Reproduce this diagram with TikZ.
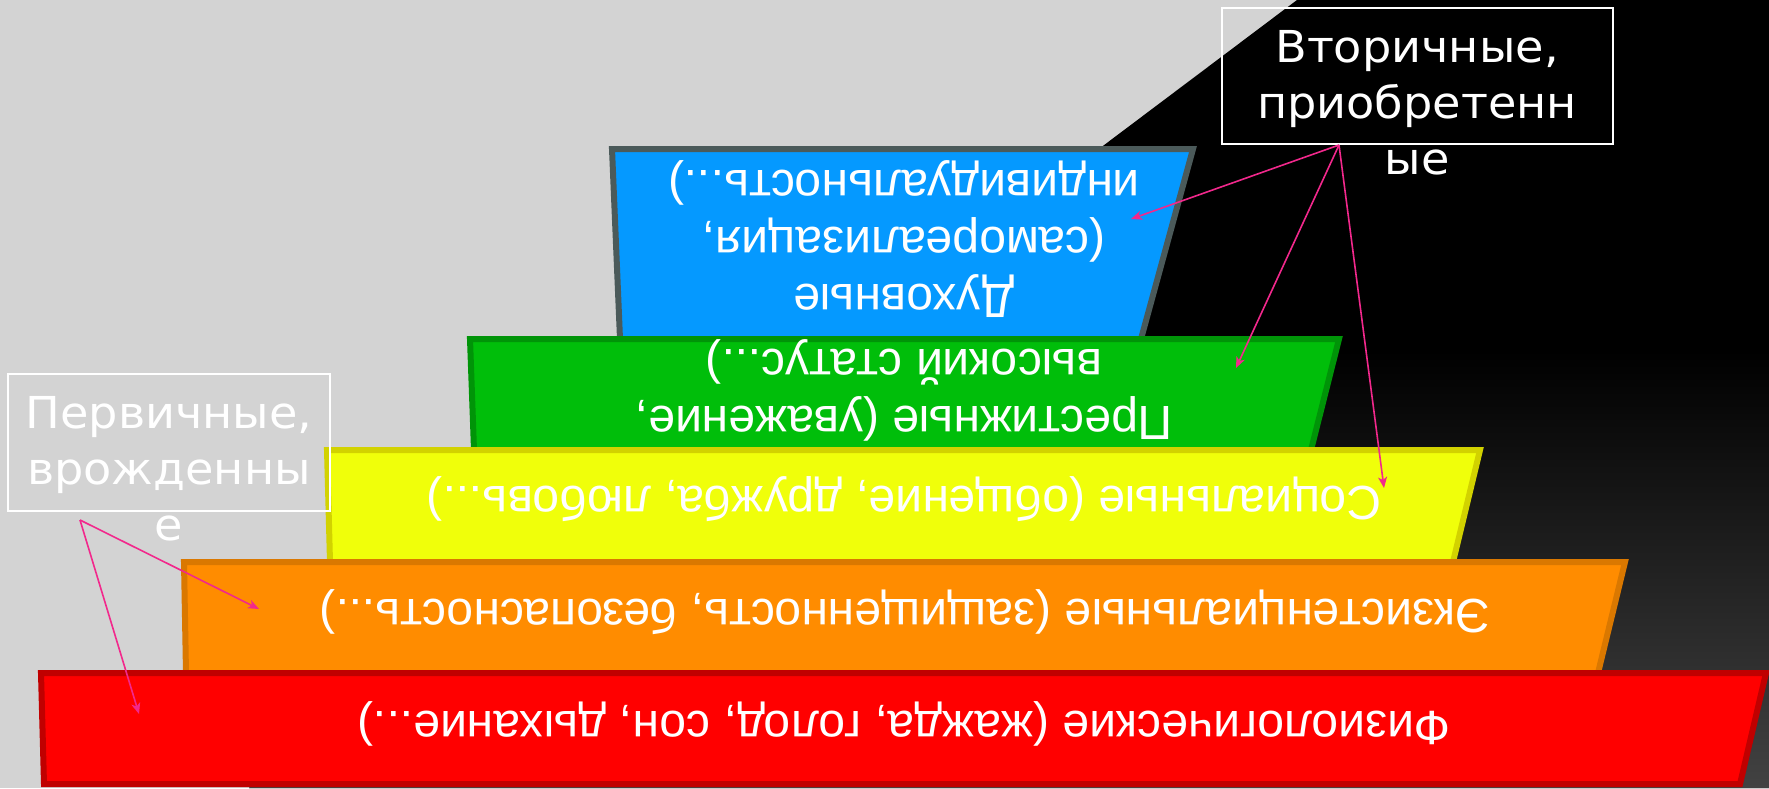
\documentclass[tikz,border=0pt]{standalone}
\usepackage{fontspec}
\setmainfont{Liberation Sans}
\newfontfamily\tagfont[FakeStretch=1.05]{DejaVu Sans}
\usepackage{tikz}
\usetikzlibrary{arrows.meta}

\definecolor{bggrey}{HTML}{D3D3D3}
\definecolor{bgdark}{HTML}{424242}
\definecolor{pinkline}{HTML}{F2288C}
\definecolor{bluefill}{HTML}{0599FF}
\definecolor{blueedge}{HTML}{4B5A5A}
\definecolor{greenfill}{HTML}{00BE0A}
\definecolor{greenedge}{HTML}{009408}
\definecolor{yellowfill}{HTML}{F0FF0A}
\definecolor{yellowedge}{HTML}{D2D200}
\definecolor{orangefill}{HTML}{FF8C00}
\definecolor{orangeedge}{HTML}{DA7800}
\definecolor{redfill}{HTML}{FF0000}
\definecolor{rededge}{HTML}{C00000}

\tikzset{
	layer/.style={line width=6pt, line join=miter},
	layertext/.style={text=white, rotate=180, align=center, inner sep=0pt, font=\fontsize{48}{57}\selectfont},
	tagbox/.style={draw=white, line width=1.5pt, inner sep=0pt},
	tagtext/.style={text=white, align=center, inner sep=0pt, font=\tagfont\fontsize{44}{56}\selectfont},
	pointer/.style={draw=pinkline, line width=1.6pt, -{Stealth[length=11pt,width=9pt,inset=3pt]}}
}

\begin{document}
\begin{tikzpicture}[x=1pt,y=-1pt]
		\useasboundingbox (0,0) rectangle (1769,788);
		\clip (0,0) rectangle (1769,788);
		
		%background
		\fill[bggrey] (0,0) rectangle (1769,788);
		\fill[black] (1297,0) -- (1769,0) -- (1769,788) -- (249,788) -- cycle;
		\shade[top color=black, bottom color=bgdark] (832,350) -- (1769,350) -- (1769,788) -- (249,788) -- cycle;
		
		%pyramid, top to bottom
		\draw[layer, draw=blueedge, fill=bluefill] (612,149) -- (1193,149) -- (1141,339) -- (620,339) -- cycle;
		\draw[layer, draw=greenedge, fill=greenfill] (470,339) -- (1339,339) -- (1311,450) -- (474,450) -- cycle;
		\draw[layer, draw=yellowedge, fill=yellowfill] (327,450) -- (1480,450) -- (1453,562) -- (330,562) -- cycle;
		\draw[layer, draw=orangeedge, fill=orangefill] (184,562) -- (1625,562) -- (1598,673) -- (186,673) -- cycle;
		\draw[layer, draw=rededge, fill=redfill] (41,673) -- (1766,673) -- (1740,784) -- (44,784) -- cycle;
		
		%texts (upside down)
		\node[layertext] (spirit) at (904,239) {Духовные\\(самореализация,\\индивидуальность...)};
		\node[layertext] (prestige) at (904,390) {Престижные (уважение,\\высокий статус...)};
		\node[layertext] (social) at (904,499) {Социальные (общение, дружба, любовь...)};
		\node[layertext] (exist) at (905,612) {Экзистенциальные (защищенность, безопасность...)};
		\node[layertext] (physio) at (904,724) {Физиологические (жажда, голод, сон, дыхание...)};
		
		%labels
		\node[tagbox, minimum width=391pt, minimum height=136pt] (secbox) at (1417.5,76) {};
		\node[tagtext] (sectext) at (1417,103) {Вторичные,\\приобретенн\\ые};
		\node[tagbox, minimum width=322pt, minimum height=137pt] (primbox) at (169,442.5) {};
		\node[tagtext] (primtext) at (169,469) {Первичные,\\врожденны\\е};
		
		%arrows
		\coordinate (secfoot) at (1339,145);
		\coordinate (primfoot) at (80,520);
		\coordinate (tipspirit) at (1131,219);
		\coordinate (tipprestige) at (1236,368);
		\coordinate (tipsocial) at (1384,488);
		\coordinate (tipexist) at (259,609);
		\coordinate (tipphysio) at (139,714);
		\draw[pointer] (secfoot) -- (tipspirit);
		\draw[pointer] (secfoot) -- (tipprestige);
		\draw[pointer] (secfoot) -- (tipsocial);
		\draw[pointer] (primfoot) -- (tipexist);
		\draw[pointer] (primfoot) -- (tipphysio);
		
\end{tikzpicture}
\end{document}
